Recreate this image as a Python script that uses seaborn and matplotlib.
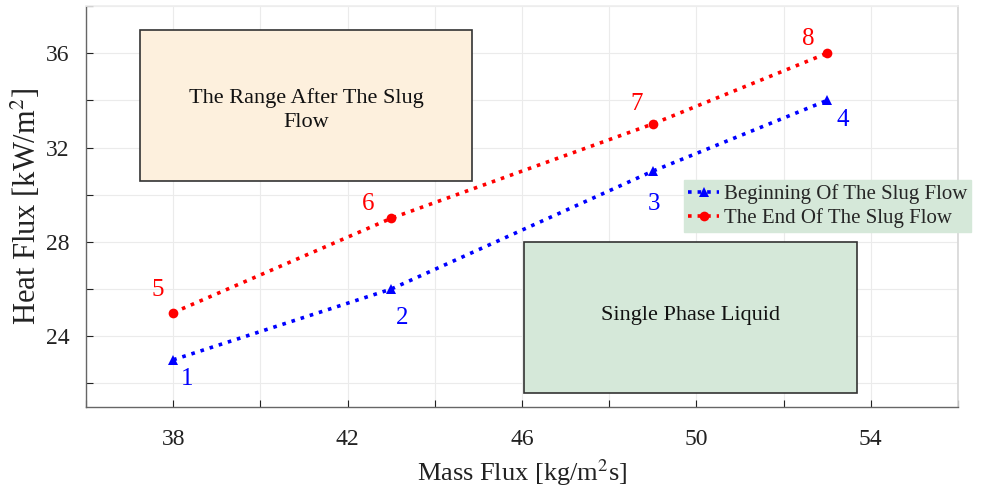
import matplotlib
matplotlib.use("Agg")
import matplotlib.pyplot as plt
import seaborn as sns
import pandas as pd
from matplotlib.patches import Rectangle
from matplotlib.ticker import MultipleLocator

# Data
mass_flux_begin = [38, 43, 49, 53]
heat_flux_begin = [23, 26, 31, 34]
labels_begin = ["1", "2", "3", "4"]
mass_flux_end = [38, 43, 49, 53]
heat_flux_end = [25, 29, 33, 36]
labels_end = ["5", "6", "7", "8"]
series_names = ["Beginning Of The Slug Flow", "The End Of The Slug Flow"]

sns.set_theme(style="white")
plt.rcParams['font.family'] = ['Liberation Serif', 'DejaVu Serif']
plt.rcParams['mathtext.fontset'] = 'stix'

fig = plt.figure(figsize=(9.82, 4.95), dpi=100)
ax = fig.add_axes([86/982, 1-407/495, (958-86)/982, (407-6)/495])

df_b = pd.DataFrame({"x": mass_flux_begin, "y": heat_flux_begin})
df_e = pd.DataFrame({"x": mass_flux_end, "y": heat_flux_end})

sns.lineplot(data=df_b, x="x", y="y", ax=ax, color="#0000FF", linestyle=":",
             linewidth=2.6, marker="^", markersize=7, markeredgewidth=0,
             label=series_names[0], zorder=5)
sns.lineplot(data=df_e, x="x", y="y", ax=ax, color="#FF0000", linestyle=":",
             linewidth=2.6, marker="o", markersize=7, markeredgewidth=0,
             label=series_names[1], zorder=5)

# Region boxes
ax.add_patch(Rectangle((37.24, 30.6), 44.85-37.24, 37.0-30.6, facecolor="#FDF0DD",
                       edgecolor="#333333", linewidth=1.2, zorder=2))
ax.text((37.24+44.85)/2, 33.6, "The Range After The Slug\nFlow", ha="center", va="center",
        fontsize=16, color="#111111", zorder=3, linespacing=1.35)
ax.add_patch(Rectangle((46.05, 21.6), 53.68-46.05, 28.0-21.6, facecolor="#D5E8D9",
                       edgecolor="#333333", linewidth=1.2, zorder=2))
ax.text((46.05+53.68)/2, 24.9, "Single Phase Liquid", ha="center", va="center",
        fontsize=16, color="#111111", zorder=3)

# Point labels
off_b = [(14, -19), (11, -29), (1, -33), (16, -20)]
off_e = [(-15, 23), (-23, 14), (-16, 20), (-19, 14)]
for x, y, t, o in zip(mass_flux_begin, heat_flux_begin, labels_begin, off_b):
    ax.annotate(t, (x, y), xytext=o, textcoords="offset pixels", ha="center",
                va="center", fontsize=18, color="#0000FF")
for x, y, t, o in zip(mass_flux_end, heat_flux_end, labels_end, off_e):
    ax.annotate(t, (x, y), xytext=o, textcoords="offset pixels", ha="center",
                va="center", fontsize=18, color="#FF0000")

ax.set_xlim(36, 56)
ax.set_ylim(21, 38)
ax.xaxis.set_minor_locator(MultipleLocator(2))
ax.yaxis.set_minor_locator(MultipleLocator(2))
ax.set_xticks([38, 42, 46, 50, 54])
ax.set_yticks([24, 28, 32, 36])
ax.grid(True, which="both", color="#EBEBEB", linewidth=0.8)
ax.tick_params(axis="both", which="both", direction="in", labelsize=17,
               colors="#222222", length=5, width=0.8, bottom=True, left=True)
ax.tick_params(axis="x", which="major", pad=16)
ax.tick_params(axis="y", which="major", pad=12)

for side in ["left", "bottom"]:
    ax.spines[side].set_color("#666666")
    ax.spines[side].set_linewidth(1.0)
ax.spines["right"].set_color("#D8D8D8")
ax.spines["top"].set_color("#EEEEEE")

ax.set_xlabel("Mass Flux [kg/m$^2$s]", fontsize=19, color="#222222", labelpad=5)
ax.set_ylabel("Heat Flux [kW/m$^2$]", fontsize=22, color="#222222", labelpad=2)

leg = ax.legend(loc="upper left", bbox_to_anchor=(684/982, 1-180/495),
                bbox_transform=fig.transFigure, fontsize=15, frameon=True,
                fancybox=False, handlelength=1.5, handletextpad=0.2,
                borderpad=0.2, labelspacing=0.2, borderaxespad=0)
leg.get_frame().set_facecolor("#D5E8D9")
leg.get_frame().set_edgecolor("#D5E8D9")
leg.get_frame().set_alpha(1)
leg.set_zorder(10)

fig.savefig("out.png", dpi=100)
